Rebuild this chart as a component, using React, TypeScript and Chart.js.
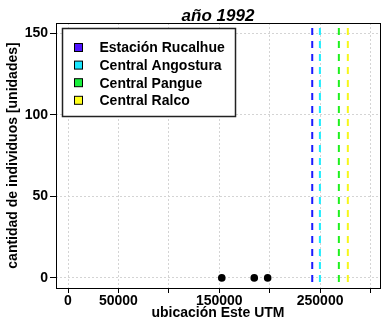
import React, { useEffect, useRef } from "react";
import { Chart, registerables } from "chart.js";

Chart.register(...registerables);

// Sampled abundance along the east UTM coordinate
const sampleEast = [152500, 184700, 198000];
const sampleCount = [0, 0, 0];

// Reference sites drawn as vertical dashed lines
const siteNames = ["Estación Rucalhue", "Central Angostura", "Central Pangue", "Central Ralco"];
const siteEast = [242200, 249800, 268600, 277500];
const siteLineColors = ["#1a1aff", "#19eeff", "#1ef01e", "#f7f71a"];
const siteKeyColors = ["#4f14ff", "#19e6ff", "#19f03c", "#ffff1a"];

// Axis ranges and ticks
const xRange = [-11900, 309400];
const yRange = [-6.2, 156.2];
const xTickValues = [0, 50000, 100000, 150000, 200000, 250000, 300000];
const xTickLabels = ["0", "50000", "", "150000", "", "250000", ""];
const yTickValues = [0, 50, 100, 150];
const yTickLabels = ["0", "50", "100", "150"];

const chartTitle = "año 1992";
const xTitle = "ubicación Este UTM";
const yTitle = "cantidad de individuos [unidades]";

const FONT = "'Liberation Sans', Arial, Helvetica, sans-serif";

const framePlugin = {
  id: "frame",
  afterDraw(chart: any) {
    const { ctx, chartArea } = chart;
    const { left, top, right, bottom } = chartArea;
    ctx.save();

    // plot box
    ctx.strokeStyle = "#000";
    ctx.lineWidth = 1;
    ctx.setLineDash([]);
    ctx.strokeRect(Math.round(left) + 0.5, Math.round(top) + 0.5, Math.round(right - left), Math.round(bottom - top));

    // title
    const cx = (left + right) / 2;
    ctx.fillStyle = "#000";
    ctx.textAlign = "center";
    ctx.textBaseline = "middle";
    ctx.font = `italic bold 17px ${FONT}`;
    ctx.fillText(chartTitle, cx, 16);

    // axis titles
    ctx.font = `bold 14px ${FONT}`;
    ctx.fillText(xTitle, cx, 313);
    ctx.save();
    ctx.translate(13.5, (top + bottom) / 2);
    ctx.rotate(-Math.PI / 2);
    ctx.fillText(yTitle, 0, 0);
    ctx.restore();

    // legend
    const lx = 62, ly = 28, lw = 173, lh = 88;
    ctx.fillStyle = "#fff";
    ctx.fillRect(lx, ly, lw, lh);
    ctx.strokeStyle = "#222";
    ctx.lineWidth = 1.5;
    ctx.strokeRect(lx + 0.5, ly + 0.5, lw, lh);
    ctx.font = `bold 14px ${FONT}`;
    ctx.textAlign = "left";
    siteNames.forEach((name, i) => {
      const rowY = 47.5 + i * 17.6;
      ctx.fillStyle = siteKeyColors[i];
      ctx.fillRect(74.5, rowY - 4, 8, 8);
      ctx.strokeStyle = "#000";
      ctx.lineWidth = 1;
      ctx.strokeRect(74.5, rowY - 4, 8, 8);
      ctx.fillStyle = "#000";
      ctx.fillText(name, 99.5, rowY + 1);
    });
    ctx.restore();
  },
};

export default function App() {
  const canvasRef = useRef<HTMLCanvasElement | null>(null);

  useEffect(() => {
    if (!canvasRef.current) return;

    const siteSets = siteNames.map((name, i) => ({
      label: name,
      data: [
        { x: siteEast[i], y: yRange[1] },
        { x: siteEast[i], y: yRange[0] },
      ],
      showLine: true,
      borderColor: siteLineColors[i],
      borderWidth: 2,
      borderDash: [7, 6],
      borderDashOffset: 8,
      pointRadius: 0,
      order: 1,
    }));

    const chart = new Chart(canvasRef.current, {
      type: "scatter",
      data: {
        datasets: [
          {
            label: "muestras",
            data: sampleEast.map((x, i) => ({ x, y: sampleCount[i] })),
            backgroundColor: "#000",
            borderColor: "#000",
            borderWidth: 0,
            pointRadius: 3.8,
            order: 0,
          },
          ...siteSets,
        ],
      },
      options: {
        animation: false,
        responsive: false,
        events: [],
        layout: { padding: { top: 23, right: 5, left: 0, bottom: 0 } },
        plugins: {
          legend: { display: false },
          title: { display: false },
          tooltip: { enabled: false },
        },
        scales: {
          x: {
            type: "linear",
            min: xRange[0],
            max: xRange[1],
            afterBuildTicks: (s: any) => {
              s.ticks = xTickValues.map((v) => ({ value: v }));
            },
            afterFit: (s: any) => {
              s.height = 35;
            },
            ticks: {
              autoSkip: false,
              maxRotation: 0,
              minRotation: 0,
              padding: 0,
              color: "#000",
              font: { family: FONT, size: 14, weight: "bold" },
              callback: (v: any) => {
                const i = xTickValues.indexOf(Number(v));
                return i >= 0 ? xTickLabels[i] : "";
              },
            },
            grid: {
              color: "#d4d4d4",
              lineWidth: 1,
              tickColor: "#000",
              tickLength: 5,
              tickWidth: 1,
            },
            border: { display: false, dash: [2, 2] },
          },
          y: {
            type: "linear",
            min: yRange[0],
            max: yRange[1],
            afterBuildTicks: (s: any) => {
              s.ticks = yTickValues.map((v) => ({ value: v }));
            },
            afterFit: (s: any) => {
              s.width = 56;
            },
            ticks: {
              autoSkip: false,
              padding: 2,
              color: "#000",
              font: { family: FONT, size: 14, weight: "bold" },
              callback: (v: any) => {
                const i = yTickValues.indexOf(Number(v));
                return i >= 0 ? yTickLabels[i] : "";
              },
            },
            grid: {
              color: "#d4d4d4",
              lineWidth: 1,
              tickColor: "#000",
              tickLength: 6,
              tickWidth: 1,
            },
            border: { display: false, dash: [2, 2] },
          },
        },
      },
      plugins: [framePlugin],
    });

    return () => chart.destroy();
  }, []);

  return (
    <div style={{ position: "fixed", left: 0, top: 0, width: 385, height: 323, background: "#fff" }}>
      <canvas ref={canvasRef} width={385} height={323} />
    </div>
  );
}
